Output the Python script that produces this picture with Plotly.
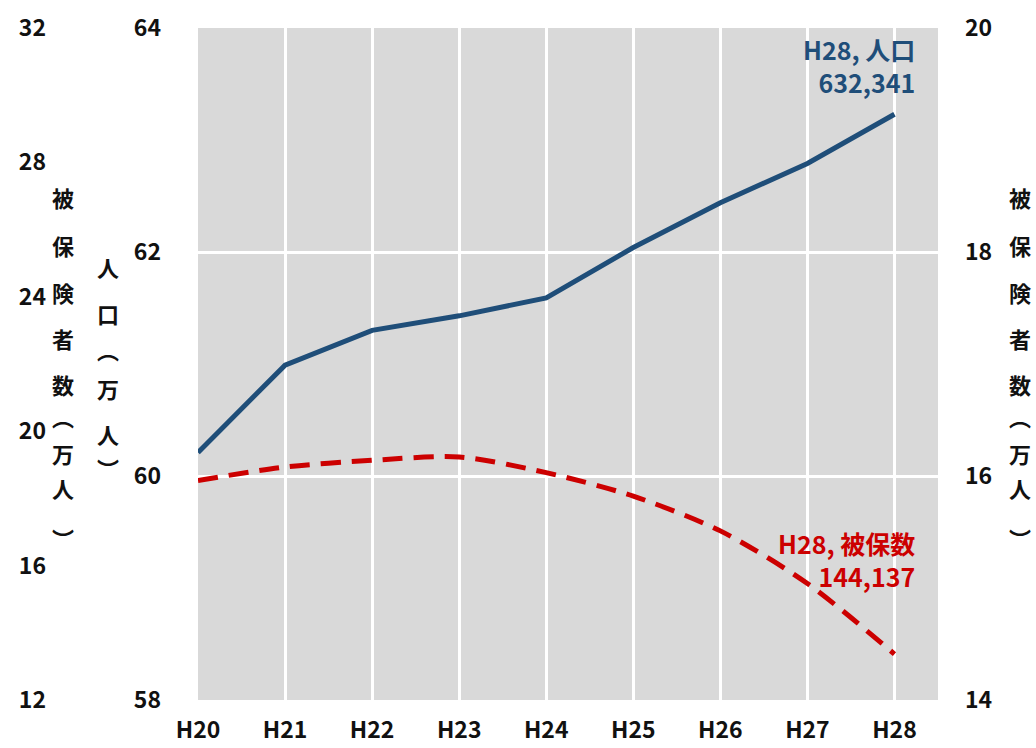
import plotly.graph_objects as go

categories = ["H20", "H21", "H22", "H23", "H24", "H25", "H26", "H27", "H28"]
population = [60.21, 60.99, 61.30, 61.43, 61.59, 62.04, 62.44, 62.79, 63.23]   # 万人
insured = [15.96, 16.08, 16.14, 16.17, 16.03, 15.82, 15.51, 15.04, 14.41]      # 万人
pop_label = "H28, 人口<br>632,341"
ins_label = "H28, 被保数<br>144,137"
outer_ticks = [12, 16, 20, 24, 28, 32]
left_ticks = [58, 60, 62, 64]
right_ticks = [14, 16, 18, 20]
title_left = "被保険者数︵万人︶"
title_inner = "人口︵万人︶"
title_right = "被保険者数︵万人︶"

W, H = 1036, 748
FONT = "Noto Sans CJK JP, Noto Sans, sans-serif"
BLUE = "#1F4E79"
RED = "#CC0000"

def px_x(p):
    return p / W

def px_y(p):
    return 1 - p / H

x_idx = list(range(len(categories)))

fig = go.Figure()
fig.add_trace(go.Scatter(x=x_idx, y=population, mode="lines", yaxis="y",
                         line=dict(color=BLUE, width=5), showlegend=False))
fig.add_trace(go.Scatter(x=x_idx, y=insured, mode="lines", yaxis="y2",
                         line=dict(color=RED, width=5, dash="20px,11px", shape="spline", smoothing=0.8),
                         showlegend=False))
# invisible trace to activate the outer axis
fig.add_trace(go.Scatter(x=[None], y=[None], yaxis="y3", showlegend=False, hoverinfo="skip"))

tickfont = dict(family=FONT, size=23, color="#111111", weight="bold")

fig.update_layout(
    width=W, height=H,
    margin=dict(l=0, r=0, t=0, b=0, pad=0),
    paper_bgcolor="white",
    plot_bgcolor="#D9D9D9",
    font=dict(family=FONT),
    xaxis=dict(domain=[px_x(198), px_x(938)], range=[0, 8.5], automargin=False,
               tickvals=x_idx, ticktext=categories, tickfont=tickfont,
               showgrid=True, gridcolor="white", gridwidth=3,
               zeroline=False, showline=False, ticks="", ticklabelstandoff=14),
    yaxis=dict(domain=[px_y(700), px_y(28)], range=[58, 64], tickvals=left_ticks,
               automargin=False,
               tickfont=tickfont, showgrid=True, gridcolor="white", gridwidth=3,
               zeroline=False, showline=False, ticks="", ticklabelstandoff=36),
    yaxis2=dict(range=[14, 20], tickvals=right_ticks, overlaying="y", side="right",
                anchor="x", tickfont=tickfont, showgrid=False, zeroline=False,
                automargin=False,
                showline=False, ticks="", ticklabelstandoff=26),
    yaxis3=dict(range=[12, 32], tickvals=outer_ticks, overlaying="y", side="left",
                anchor="free", position=px_x(46), tickfont=tickfont, showgrid=False,
                automargin=False,
                zeroline=False, showline=False, ticks=""),
)

anns = []
def vertical(text, xc, ys):
    for ch, yc in zip(text, ys):
        anns.append(dict(text=ch, x=px_x(xc), y=px_y(yc), xref="paper", yref="paper",
                         xanchor="center", yanchor="middle", showarrow=False,
                         font=dict(family=FONT, size=22, color="#111111", weight="bold")))

ys9 = [197, 245, 292, 338, 384, 416, 453, 488, 538]
vertical(title_left, 63, ys9)
vertical(title_right, 1020, ys9)
vertical(title_inner, 108, [267, 313, 349, 388, 434, 468])

anns.append(dict(text=pop_label, x=8, y=population[-1], xref="x", yref="y",
                 xanchor="right", yanchor="bottom", align="right", showarrow=False,
                 xshift=23, yshift=12,
                 font=dict(family=FONT, size=25, color=BLUE, weight="bold")))
anns.append(dict(text=ins_label, x=8, y=insured[-1], xref="x", yref="y2",
                 xanchor="right", yanchor="bottom", align="right", showarrow=False,
                 xshift=23, yshift=58,
                 font=dict(family=FONT, size=25, color=RED, weight="bold")))
fig.update_layout(annotations=anns)

fig.write_html("out.html", config={"displayModeBar": False},
               post_script="document.body.style.margin='0';document.body.style.overflow='hidden';")
